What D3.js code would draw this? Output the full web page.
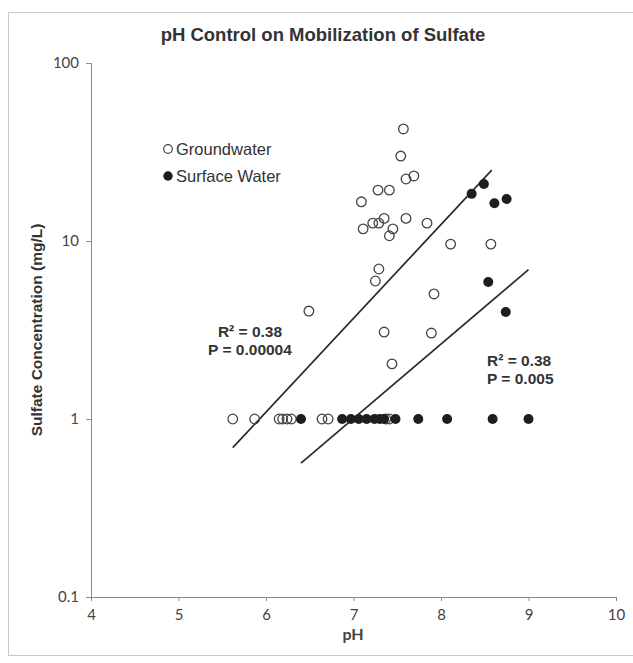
<!DOCTYPE html>
<html>
<head>
<meta charset="utf-8">
<script src="https://cdn.jsdelivr.net/npm/d3@7"></script>
<style>
  body { margin: 0; background: #fff; }
  svg { display: block; }
</style>
</head>
<body>
<div id="chart"></div>
<script>
// groundwater samples (open markers)
var groundPH = [5.62, 5.87, 6.15, 6.19, 6.24, 6.29, 6.64, 6.71, 7.37, 7.41,
  6.49, 7.29, 7.25, 7.92, 7.35, 7.89, 7.44,
  7.09, 7.11, 7.22, 7.29, 7.35, 7.45, 7.41, 7.60, 7.84, 8.11, 8.57,
  7.28, 7.41, 7.57, 7.54, 7.60, 7.69]
var groundSO4 = [1, 1, 1, 1, 1, 1, 1, 1, 1, 1,
  4.04, 6.96, 5.96, 5.04, 3.08, 3.04, 2.04,
  16.6, 11.7, 12.6, 12.6, 13.4, 11.7, 10.7, 13.4, 12.6, 9.6, 9.6,
  19.3, 19.3, 42.6, 30, 22.3, 23.2]

// surface water samples (filled markers)
var surfacePH = [6.40, 6.87, 6.97, 7.06, 7.15, 7.24, 7.30, 7.35, 7.48, 7.74, 8.07, 8.59, 9.00,
  8.35, 8.49, 8.61, 8.75, 8.54, 8.74]
var surfaceSO4 = [1, 1, 1, 1, 1, 1, 1, 1, 1, 1, 1, 1, 1,
  18.4, 20.9, 16.3, 17.2, 5.89, 3.99]

// trend line end points
var groundTrendPH = [5.62, 8.58]
var groundTrendSO4 = [0.69, 25]
var surfaceTrendPH = [6.40, 9.00]
var surfaceTrendSO4 = [0.565, 6.9]

var xTicks = [4, 5, 6, 7, 8, 9, 10]
var yTicks = [0.1, 1, 10, 100]
var yTickLabels = ['0.1', '1', '10', '100']

function drawChart () {
  var width = 633
  var height = 663
  var plotLeft = 91
  var plotRight = 616
  var plotTop = 63
  var plotBottom = 597

  var svg = d3.select('#chart')
    .append('svg')
    .attr('width', width)
    .attr('height', height)

  // outer frame
  svg.append('rect')
    .attr('x', 8.5)
    .attr('y', 12.5)
    .attr('width', 640)
    .attr('height', 643)
    .attr('fill', 'none')
    .attr('stroke', '#c8c8c8')

  var x = d3.scaleLinear().domain([4, 10]).range([plotLeft, plotRight])
  var y = d3.scaleLog().domain([0.1, 100]).range([plotBottom, plotTop])

  var tickFont = 'Lato, "Open Sans", sans-serif'
  var mainFont = '"Liberation Sans", Arial, sans-serif'

  // axes
  var xAxis = svg.append('g')
    .attr('transform', 'translate(0,' + plotBottom + ')')
    .call(d3.axisBottom(x).tickValues(xTicks).tickSize(4).tickFormat(d3.format('d')))
  var yAxis = svg.append('g')
    .attr('transform', 'translate(' + plotLeft + ',0)')
    .call(d3.axisLeft(y).tickValues(yTicks).tickSize(5)
      .tickFormat(function (d, i) { return yTickLabels[i] }))

  ;[xAxis, yAxis].forEach(function (a) {
    a.select('.domain').attr('stroke', '#8a8a8a')
    a.selectAll('.tick line').attr('stroke', '#8a8a8a')
    a.selectAll('.tick text')
      .attr('fill', '#444')
      .style('font-family', tickFont)
      .style('font-size', '15px')
  })
  xAxis.selectAll('.tick text').attr('dy', '1.05em')
  yAxis.selectAll('.tick text').attr('x', -12)

  // title
  svg.append('text')
    .attr('x', 323)
    .attr('y', 41)
    .attr('text-anchor', 'middle')
    .style('font-family', mainFont)
    .style('font-weight', 'bold')
    .style('font-size', '18.5px')
    .attr('fill', '#333')
    .text('pH Control on Mobilization of Sulfate')

  // axis titles
  svg.append('text')
    .attr('x', 353)
    .attr('y', 640)
    .attr('text-anchor', 'middle')
    .style('font-family', tickFont)
    .style('font-weight', 'bold')
    .style('font-size', '16px')
    .attr('fill', '#444')
    .text('pH')

  svg.append('text')
    .attr('transform', 'translate(42,330) rotate(-90)')
    .attr('text-anchor', 'middle')
    .style('font-family', mainFont)
    .style('font-weight', 'bold')
    .style('font-size', '15.5px')
    .attr('fill', '#333')
    .text('Sulfate Concentration (mg/L)')

  // trend lines
  var line = d3.line()
    .x(function (d) { return x(d[0]) })
    .y(function (d) { return y(d[1]) })

  ;[[groundTrendPH, groundTrendSO4], [surfaceTrendPH, surfaceTrendSO4]].forEach(function (t) {
    svg.append('path')
      .datum(d3.zip(t[0], t[1]))
      .attr('d', line)
      .attr('fill', 'none')
      .attr('stroke', '#2a2a2a')
      .attr('stroke-width', 1.7)
  })

  // groundwater points
  svg.append('g')
    .selectAll('circle')
    .data(d3.zip(groundPH, groundSO4))
    .join('circle')
    .attr('cx', function (d) { return x(d[0]) })
    .attr('cy', function (d) { return y(d[1]) })
    .attr('r', 4.8)
    .attr('fill', 'none')
    .attr('stroke', '#444')
    .attr('stroke-width', 1.3)

  // surface water points
  svg.append('g')
    .selectAll('circle')
    .data(d3.zip(surfacePH, surfaceSO4))
    .join('circle')
    .attr('cx', function (d) { return x(d[0]) })
    .attr('cy', function (d) { return y(d[1]) })
    .attr('r', 5)
    .attr('fill', '#1e1e1e')

  // legend
  var legend = svg.append('g').attr('transform', 'translate(168,149)')
  legend.append('circle')
    .attr('r', 4.3)
    .attr('fill', 'none')
    .attr('stroke', '#444')
    .attr('stroke-width', 1.2)
  legend.append('circle')
    .attr('cy', 27)
    .attr('r', 4.7)
    .attr('fill', '#1e1e1e')
  legend.selectAll('text')
    .data(['Groundwater', 'Surface Water'])
    .join('text')
    .attr('x', 8)
    .attr('y', function (d, i) { return i * 27 + 6 })
    .style('font-family', mainFont)
    .style('font-size', '16.5px')
    .attr('fill', '#333')
    .text(function (d) { return d })

  // regression notes
  function addNote (cx, cy, lines, anchor) {
    svg.append('g')
      .selectAll('text')
      .data(lines)
      .join('text')
      .attr('x', cx)
      .attr('y', function (d, i) { return cy + i * 18 })
      .attr('text-anchor', anchor)
      .style('font-family', mainFont)
      .style('font-weight', 'bold')
      .style('font-size', '15.5px')
      .attr('fill', '#333')
      .text(function (d) { return d })
  }
  addNote(250, 337, ['R\u00B2 = 0.38', 'P = 0.00004'], 'middle')
  addNote(487, 366, ['R\u00B2 = 0.38', 'P = 0.005'], 'start')
}

drawChart()
</script>
</body>
</html>
